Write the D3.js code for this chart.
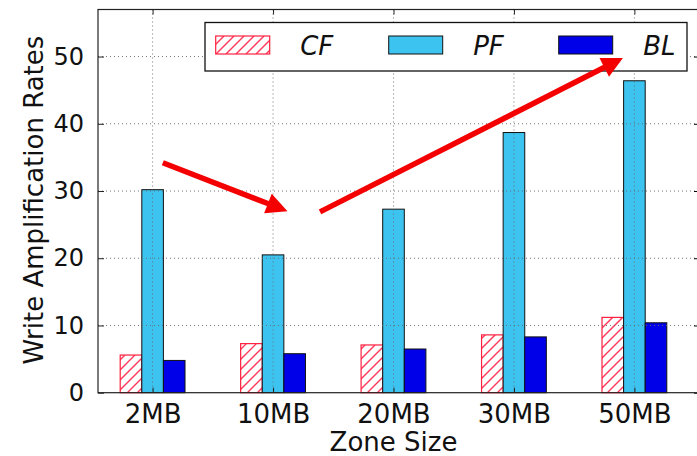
<!DOCTYPE html>
<html><head><meta charset="utf-8">
<script src="https://cdn.jsdelivr.net/npm/d3@7"></script>
<style>html,body{margin:0;padding:0;background:#fff;} svg{display:block;}</style>
</head><body>
<svg id="chart" width="697" height="456"></svg>
<script>
const categories = ["2MB", "10MB", "20MB", "30MB", "50MB"];
const seriesNames = ["CF", "PF", "BL"];
const cfValues = [5.6, 7.3, 7.1, 8.6, 11.2];
const pfValues = [30.2, 20.5, 27.3, 38.7, 46.4];
const blValues = [4.8, 5.8, 6.5, 8.3, 10.4];
const yTicks = [0, 10, 20, 30, 40, 50];
// arrows in data coordinates: [category index, value]
const arrows = [
  {from: [0.085, 34.2], to: [1.12, 27.0]},
  {from: [1.39, 26.9], to: [3.905, 49.8]}
];

const svg = d3.select("#chart");
const W = 697, H = 456;
const plot = {left: 98, right: 700, top: 9.5, bottom: 392.7};
const x = d3.scalePoint().domain(categories).range([152.6, 634.4]);
const xi = d3.scaleLinear().domain([0, categories.length - 1]).range([152.6, 634.4]);
const y = d3.scaleLinear().domain([0, 57]).range([plot.bottom, plot.top]);
const bw = 21.6;

const colors = {CF: "#ffffff", PF: "#3dc3ef", BL: "#0000e8"};
const edges = {CF: "#ff1f3f", PF: "#111", BL: "#111"};
const hatchColor = "#ff3a5a";

svg.append("rect").attr("width", W).attr("height", H).attr("fill", "#fff");
const defs = svg.append("defs");
let clipId = 0;

function hatchRect(g, rx, ry, rw, rh) {
  const id = "clip" + (clipId++);
  defs.append("clipPath").attr("id", id).append("rect")
    .attr("x", rx).attr("y", ry).attr("width", rw).attr("height", rh);
  g.append("rect").attr("x", rx).attr("y", ry).attr("width", rw).attr("height", rh).attr("fill", "#fff");
  const hg = g.append("g").attr("clip-path", `url(#${id})`);
  const step = 10;
  const start = Math.floor((rx + ry) / step) * step;
  const end = rx + rw + ry + rh + step;
  const sums = d3.range(start, end, step);
  hg.selectAll("line").data(sums).join("line")
    .attr("x1", v => v - (ry + rh)).attr("y1", ry + rh)
    .attr("x2", v => v - ry).attr("y2", ry)
    .style("stroke", hatchColor).style("stroke-width", "1.4px");
  g.append("rect").attr("x", rx).attr("y", ry).attr("width", rw).attr("height", rh)
    .attr("fill", "none").style("stroke", edges.CF).style("stroke-width", "1.2px");
}

const data = categories.map((c, i) => ({cat: c, CF: cfValues[i], PF: pfValues[i], BL: blValues[i]}));

// bars
seriesNames.forEach((s, k) => {
  const g = svg.append("g");
  if (s === "CF") {
    data.forEach(d => hatchRect(g, x(d.cat) + (k - 1.5) * bw, y(d[s]), bw, y(0) - y(d[s])));
  } else {
    g.selectAll("rect").data(data).join("rect")
      .attr("x", d => x(d.cat) + (k - 1.5) * bw)
      .attr("y", d => y(d[s]))
      .attr("width", bw)
      .attr("height", d => y(0) - y(d[s]))
      .attr("fill", colors[s])
      .attr("stroke", edges[s])
      .attr("stroke-width", 1);
  }
});

// grid (drawn above bars)
const grid = svg.append("g").attr("stroke", "#666").attr("stroke-width", 0.9).attr("stroke-dasharray", "1,3");
grid.selectAll("line.h").data(yTicks.filter(t => t > 0)).join("line").attr("class", "h")
  .attr("x1", plot.left).attr("x2", plot.right).attr("y1", d => y(d)).attr("y2", d => y(d));
grid.selectAll("line.v").data(categories).join("line").attr("class", "v")
  .attr("x1", d => x(d)).attr("x2", d => x(d)).attr("y1", plot.top).attr("y2", plot.bottom);

// axes
const yAxis = d3.axisLeft(y).tickValues(yTicks).tickSize(-6).tickPadding(14);
const gy = svg.append("g").attr("transform", `translate(${plot.left},0)`).call(yAxis);
gy.select(".domain").remove();
gy.selectAll("text").attr("font-family", "DejaVu Sans").attr("font-size", 24).attr("fill", "#111");
gy.selectAll("line").attr("stroke", "#222");

const yAxisR = d3.axisRight(y).tickValues(yTicks).tickSize(-6).tickFormat("");
const gyr = svg.append("g").attr("transform", `translate(${plot.right},0)`).call(yAxisR);
gyr.select(".domain").remove();

const xAxis = d3.axisBottom(x).tickSize(-5).tickPadding(12);
const gx = svg.append("g").attr("transform", `translate(0,${plot.bottom})`).call(xAxis);
gx.select(".domain").remove();
gx.selectAll("text").attr("font-family", "DejaVu Sans").attr("font-size", 26).attr("fill", "#111");
gx.selectAll("line").attr("stroke", "#222");

const xAxisT = d3.axisTop(x).tickSize(-5).tickFormat("");
const gxt = svg.append("g").attr("transform", `translate(0,${plot.top})`).call(xAxisT);
gxt.select(".domain").remove();
gxt.selectAll("line").attr("stroke", "#222");

// frame
svg.append("rect").attr("x", plot.left).attr("y", plot.top)
  .attr("width", plot.right - plot.left).attr("height", plot.bottom - plot.top)
  .attr("fill", "none").attr("stroke", "#222").attr("stroke-width", 1.2);

// axis labels
svg.append("text").attr("x", x("20MB")).attr("y", 451).attr("text-anchor", "middle")
  .attr("font-family", "DejaVu Sans").attr("font-size", 26).attr("fill", "#111").text("Zone Size");
svg.append("text").attr("transform", `translate(43,${(plot.top + plot.bottom) / 2 - 1}) rotate(-90)`)
  .attr("text-anchor", "middle").attr("font-family", "DejaVu Sans").attr("font-size", 26)
  .attr("fill", "#111").text("Write Amplification Rates");

// legend
const leg = svg.append("g");
leg.append("rect").attr("x", 205).attr("y", 22.5).attr("width", 482).attr("height", 48.5)
  .attr("fill", "#fff").attr("stroke", "#111").attr("stroke-width", 1.3);
const legX = [215.7, 388.7, 558.7];
seriesNames.forEach((s, k) => {
  if (s === "CF") {
    hatchRect(leg, legX[k], 36, 54, 18);
  } else {
    leg.append("rect").attr("x", legX[k]).attr("y", 36).attr("width", 54).attr("height", 18)
      .attr("fill", colors[s]).attr("stroke", edges[s]).attr("stroke-width", 1);
  }
  leg.append("text").attr("x", legX[k] + 84.5).attr("y", 54.5)
    .attr("font-family", "DejaVu Sans").attr("font-style", "italic").attr("font-size", 26)
    .attr("fill", "#111").text(s);
});

// arrows
const ag = svg.append("g");
arrows.forEach(a => {
  const x1 = xi(a.from[0]), y1 = y(a.from[1]), x2 = xi(a.to[0]), y2 = y(a.to[1]);
  const dx = x2 - x1, dy = y2 - y1, L = Math.hypot(dx, dy);
  const ux = dx / L, uy = dy / L;
  const hl = 21, hw = 10.5;
  const bx = x2 - ux * hl, by = y2 - uy * hl;
  ag.append("line").attr("x1", x1).attr("y1", y1).attr("x2", bx + ux * 2).attr("y2", by + uy * 2)
    .attr("stroke", "#f40000").attr("stroke-width", 5.5);
  ag.append("path").attr("d", d3.line()([[x2, y2], [bx - uy * hw, by + ux * hw], [bx + uy * hw, by - ux * hw]]) + "Z")
    .attr("fill", "#f40000");
});
</script>
</body></html>
